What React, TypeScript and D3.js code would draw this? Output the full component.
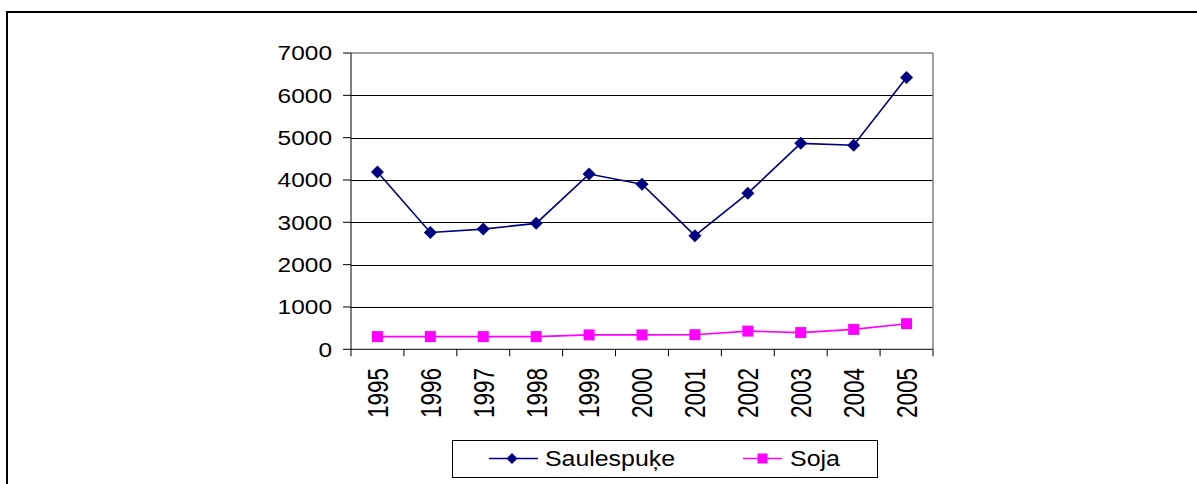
import React from "react";
import * as d3 from "d3";

const years = ["1995","1996","1997","1998","1999","2000","2001","2002","2003","2004","2005"];
const saulespuke = [4190, 2760, 2840, 2975, 4140, 3900, 2685, 3685, 4865, 4820, 6420];
const soja = [300, 300, 300, 300, 340, 340, 345, 430, 395, 470, 605];
const yTicks = [0, 1000, 2000, 3000, 4000, 5000, 6000, 7000];
const seriesNames = ["Saulespuķe", "Soja"];

const W = 1197, H = 484;
const left = 351, right = 933, top = 53, bottom = 349.3;
const FONT = "Liberation Sans, Arial, sans-serif";
const NAVY = "#000080";
const MAG = "#FF00FF";

export default function App() {
  const x = d3.scaleBand<string>().domain(years).range([left, right]);
  const y = d3.scaleLinear().domain([0, 7000]).range([bottom, top]);
  const line = d3.line<number>()
    .x((_, i) => (x(years[i]) as number) + x.bandwidth() / 2)
    .y((d) => y(d));
  const cx = (i: number) => (x(years[i]) as number) + x.bandwidth() / 2;
  const diamond = (px: number, py: number, r: number) =>
    `M${px},${py - r}L${px + r},${py}L${px},${py + r}L${px - r},${py}Z`;

  return (
    <svg width={W} height={H} style={{ position: "absolute", left: 0, top: 0, background: "#fff" }}>
      <rect x={0} y={0} width={W} height={H} fill="#fff" />
      {/* outer frame */}
      <rect x={7} y={12} width={W + 20} height={H + 20} fill="none" stroke="#000" strokeWidth={2} />
      {/* gridlines */}
      {yTicks.filter((t) => t > 0 && t < 7000).map((t) => (
        <line key={t} x1={left} x2={right} y1={Math.round(y(t)) + 0.5} y2={Math.round(y(t)) + 0.5} stroke="#000" strokeWidth={1} />
      ))}
      {/* plot border top/right */}
      <line x1={left} x2={right} y1={top} y2={top} stroke="#808080" strokeWidth={1.5} />
      <line x1={right} x2={right} y1={top} y2={bottom} stroke="#808080" strokeWidth={1.5} />
      {/* axes */}
      <line x1={left} x2={left} y1={top} y2={bottom} stroke="#000" strokeWidth={1} />
      <line x1={left} x2={right} y1={bottom} y2={bottom} stroke="#000" strokeWidth={1} />
      {yTicks.map((t) => (
        <g key={t}>
          <line x1={343} x2={left} y1={y(t)} y2={y(t)} stroke="#000" strokeWidth={1} />
          <text x={332} y={y(t)} dy="0.36em" textAnchor="end" fontFamily={FONT} fontSize={20.5}
            textLength={13.6 * String(t).length} lengthAdjust="spacingAndGlyphs">{t}</text>
        </g>
      ))}
      {years.map((yr) => (
        <line key={"t" + yr} x1={x(yr) as number} x2={x(yr) as number} y1={bottom} y2={bottom + 7} stroke="#000" strokeWidth={1} />
      ))}
      <line x1={right} x2={right} y1={bottom} y2={bottom + 7} stroke="#000" strokeWidth={1} />
      {years.map((yr, i) => (
        <text key={"l" + yr} transform={`translate(${cx(i)},368) scale(1.28,1) rotate(-90)`}
          dy="0.36em" textAnchor="end" fontFamily={FONT} fontSize={22.5}>{yr}</text>
      ))}
      {/* series */}
      <path d={line(saulespuke) as string} fill="none" stroke={NAVY} strokeWidth={1.6} />
      <path d={line(soja) as string} fill="none" stroke={MAG} strokeWidth={1.6} />
      {saulespuke.map((v, i) => (
        <path key={"d" + i} d={diamond(cx(i), y(v), 6.5)} fill={NAVY} />
      ))}
      {soja.map((v, i) => (
        <rect key={"s" + i} x={cx(i) - 5.5} y={y(v) - 5.5} width={11} height={11} fill={MAG} />
      ))}
      {/* legend */}
      <rect x={452.5} y={440.5} width={425} height={37} fill="#fff" stroke="#000" strokeWidth={1} />
      <line x1={489} x2={538} y1={458.5} y2={458.5} stroke={NAVY} strokeWidth={1.6} />
      <path d={diamond(512, 458.5, 5.5)} fill={NAVY} />
      <text x={545} y={458.5} dy="0.36em" fontFamily={FONT} fontSize={22}
        textLength={130} lengthAdjust="spacingAndGlyphs">{seriesNames[0]}</text>
      <line x1={743} x2={782} y1={458.5} y2={458.5} stroke={MAG} strokeWidth={1.6} />
      <rect x={757.5} y={453.5} width={10} height={10} fill={MAG} />
      <text x={790} y={458.5} dy="0.36em" fontFamily={FONT} fontSize={22}
        textLength={50} lengthAdjust="spacingAndGlyphs">{seriesNames[1]}</text>
    </svg>
  );
}
